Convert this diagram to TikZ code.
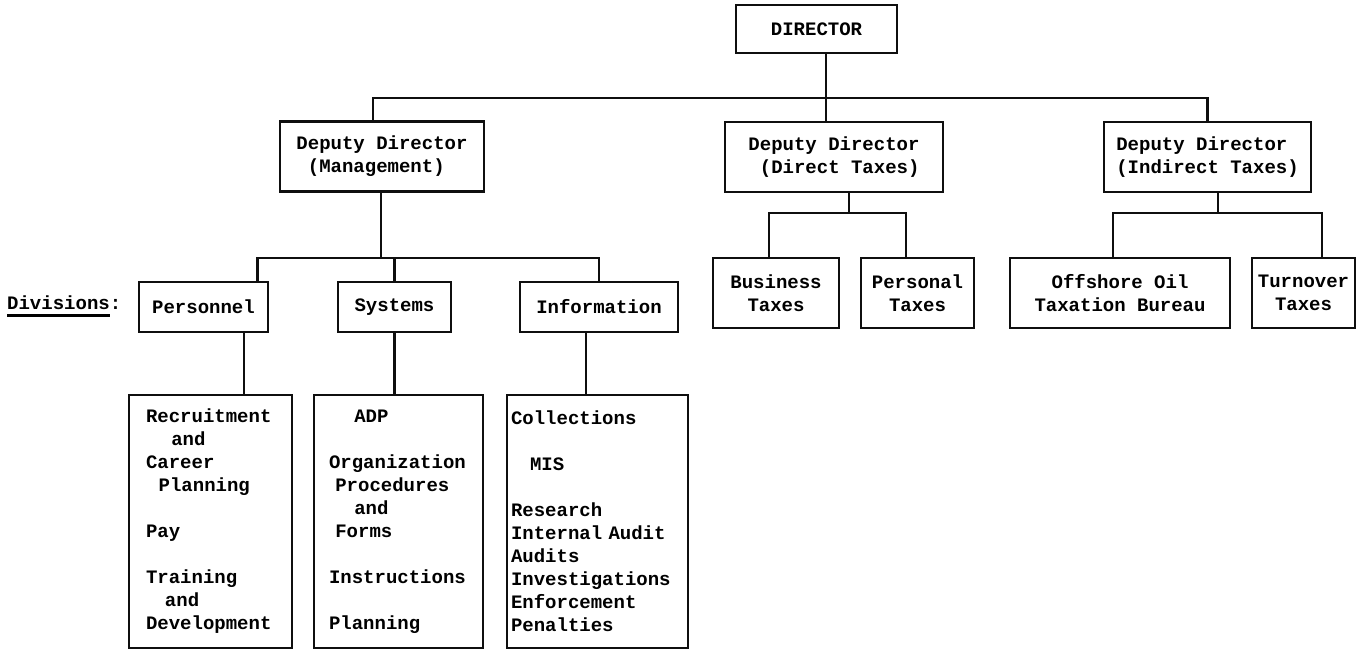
\documentclass[tikz,border=0pt]{standalone}
\usepackage{fontspec}
\setmonofont{Liberation Mono}
\usepackage{tikz}
\usetikzlibrary{calc}
\definecolor{ink}{RGB}{15,15,15}
\newcommand{\thickul}[1]{\setbox0\hbox{#1}\rlap{\rule[-8pt]{\wd0}{2.6pt}}\box0}

\begin{document}
\begin{tikzpicture}[x=1pt,y=-1pt,
  tt/.style={font=\ttfamily\bfseries\fontsize{19}{23}\selectfont},
  box/.style={tt,draw=ink,line width=2.6pt,inner sep=2pt,align=center},
  deputy/.style={box,align=left,minimum height=70pt},
  sub/.style={box,minimum height=70pt},
  div/.style={box,minimum height=50pt},
  listbox/.style={box,align=left,minimum height=253pt,inner ysep=0pt},
  link/.style={draw=ink,line width=2.6pt},
]
  \useasboundingbox (0,0) rectangle (1359,651);

  % top levels
  \node[box,minimum width=161pt,minimum height=48pt] (dir) at (816.5,29) {DIRECTOR};
  \node[deputy,minimum width=204pt] (mgt) at (382,156.5) {Deputy Director\\~(Management)};
  \node[deputy,minimum width=218pt] (dtax) at (834,157) {Deputy Director\\~(Direct Taxes)};
  \node[deputy,minimum width=207pt] (itax) at (1207.5,157) {Deputy Director\\(Indirect Taxes)};

  % divisions
  \node[tt,inner sep=0pt,anchor=base west] (divlbl) at (7,309) {\thickul{Divisions}:};
  \node[div,minimum width=129pt] (pers) at (203.5,307) {Personnel};
  \node[div,minimum width=113pt] (syst) at (394.5,307) {Systems};
  \node[div,minimum width=158pt] (info) at (599,307) {Information};
  \node[sub,minimum width=126pt] (bus) at (776,293) {Business\\Taxes};
  \node[sub,minimum width=113pt] (prs) at (917.5,293) {Personal\\Taxes};
  \node[sub,minimum width=220pt] (oil) at (1120,293) {Offshore Oil\\Taxation Bureau};
  \node[sub,minimum width=103pt] (turn) at (1303.5,293) {Turnover\\Taxes};

  % branches
  \node[listbox,text width=129pt,inner xsep=17pt] (persl) at (210.5,521.5)
    {Recruitment\\~~~~and\\Career\\~~Planning\\[23pt]Pay\\[23pt]Training\\~~~and\\Development};
  \node[listbox,text width=139pt,inner xsep=15pt] (systl) at (398.5,521.5)
    {~~~~ADP\\[23pt]Organization\\~Procedures\\~~~~and\\~Forms\\[23pt]Instructions\\[23pt]Planning};
  \node[listbox,text width=173pt,inner xsep=4pt] (infol) at (597.5,521.5)
    {Collections\\[23pt]~~~MIS\\[23pt]Research\\\mbox{Internal Audit}\\Audits\\Investigations\\Enforcement\\Penalties};

  \coordinate (hub) at (826,98);
  \coordinate (mhub) at (381,258);
  \coordinate (dhub) at (849,213);
  \coordinate (ihub) at (1218,213);

  \draw[link] (dir.south -| hub) -- (dtax.north -| hub);
  \draw[link] ($(mgt.north)+(-9,0)$) |- (hub) -| (itax.north);
  \draw[link] (mgt.south -| mhub) -- (mhub);
  \draw[link] ($(pers.north)+(54,0)$) |- (mhub) -| (info.north);
  \draw[link] (syst.north) -- (syst.north |- mhub);
  \draw[link] ($(pers.south)+(40.5,0)$) -- ($(persl.north)+(33.5,0)$);
  \draw[link] (syst.south) -- (syst.south |- systl.north);
  \draw[link] ($(info.south)+(-13,0)$) -- ($(infol.north)+(-11.5,0)$);
  \draw[link] (dtax.south -| dhub) -- (dhub);
  \draw[link] ($(bus.north)+(-7,0)$) |- (dhub) -| ($(prs.north)+(-11.5,0)$);
  \draw[link] (itax.south -| ihub) -- (ihub);
  \draw[link] ($(oil.north)+(-7,0)$) |- (ihub) -| ($(turn.north)+(18.5,0)$);
\end{tikzpicture}
\end{document}
